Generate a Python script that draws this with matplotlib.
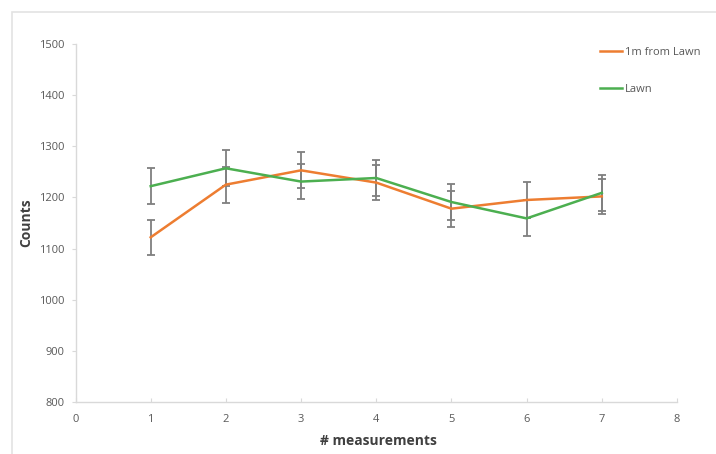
import matplotlib.pyplot as plt
from matplotlib.patches import Rectangle

x = [1, 2, 3, 4, 5, 6, 7]
near_lawn = [1122, 1225, 1253, 1229, 1178, 1195, 1202]
near_lawn_err = [34, 35, 35, 35, 35, 35, 35]
lawn = [1222, 1257, 1231, 1238, 1191, 1159, 1209]
lawn_err = [35, 35, 35, 35, 35, 35, 35]
labels = ['1m from Lawn', 'Lawn']
colors = ['#ed7d31', '#4caf50']

plt.rcParams['font.family'] = ['Open Sans', 'DejaVu Sans']

fig = plt.figure(figsize=(7.16, 4.54), dpi=100)
# light frame around the chart area (cropped on right/bottom)
fig.patches.append(Rectangle((12 / 716, -0.1), 1.2, 1 - 12 / 454 + 0.1,
                             transform=fig.transFigure, fill=False,
                             edgecolor='#e3e3e3', linewidth=1.2))

ax = fig.add_axes([75.5 / 716, 1 - 402 / 454, (677 - 75.5) / 716, (402 - 44) / 454])

for ys, es, c, lab in [(near_lawn, near_lawn_err, colors[0], labels[0]),
                       (lawn, lawn_err, colors[1], labels[1])]:
    ax.errorbar(x, ys, yerr=es, fmt='none', ecolor='#7f7f7f', elinewidth=1.3,
                capsize=3, capthick=1.3, zorder=2)
    ax.plot(x, ys, color=c, linewidth=1.8, label=lab, zorder=3)

ax.set_xlim(0, 8)
ax.set_ylim(800, 1500)
ax.set_xticks(range(0, 9))
ax.set_yticks(range(800, 1501, 100))

for s in ['top', 'right']:
    ax.spines[s].set_visible(False)
for s in ['left', 'bottom']:
    ax.spines[s].set_color('#d9d9d9')
    ax.spines[s].set_linewidth(1)
ax.tick_params(axis='x', direction='in', length=3, color='#d9d9d9', labelsize=8,
               labelcolor='#595959', pad=9)
ax.tick_params(axis='y', direction='out', length=3, color='#d9d9d9', labelsize=8,
               labelcolor='#595959', pad=5)

ax.set_xlabel('# measurements', fontsize=10, fontweight='bold', color='#404040')
ax.set_ylabel('Counts', fontsize=10, fontweight='bold', color='#404040')
ax.xaxis.set_label_coords(0.504, -0.09)
ax.yaxis.set_label_coords(-0.071, 0.5)

leg = ax.legend(loc='upper left', bbox_to_anchor=(0.855, 1.02), frameon=False,
                fontsize=8, handlelength=2.0, handletextpad=0.3, labelspacing=2.35,
                labelcolor='#595959')

fig.savefig('out.png', dpi=100)
